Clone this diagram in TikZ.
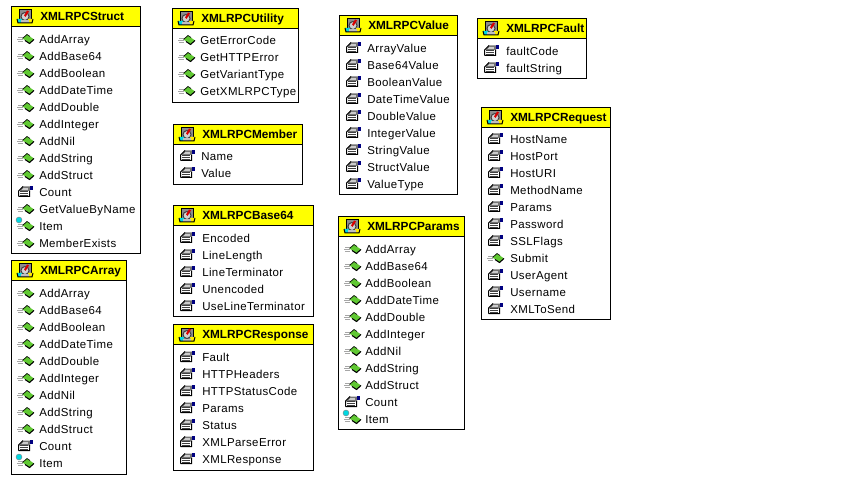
\documentclass[tikz,border=0pt]{standalone}
\usepackage{fontspec}
\setmainfont{Liberation Sans}
\newfontfamily\rowfont[LetterSpace=3.5]{Liberation Sans}
\definecolor{hdr}{RGB}{255,255,0}
\definecolor{leaf}{RGB}{96,200,50}
\definecolor{flag}{RGB}{0,0,128}
\definecolor{bulb}{RGB}{0,215,225}
\tikzset{
  x=0.75pt,y=-0.75pt,
  px/.style={line width=0.75pt},
  boxframe/.style={draw=black,px,fill=white},
  boxhead/.style={draw=black,px,fill=hdr},
  rowtext/.style={anchor=base west,inner sep=0pt,font=\rowfont\fontsize{8.6pt}{10pt}\selectfont,text=black},
  headtext/.style={anchor=base west,inner sep=0pt,font=\bfseries\fontsize{8.85pt}{10pt}\selectfont,text=black},
}
\newcommand{\icom}[2]{%
  \begin{scope}[shift={(#1,#2)}]
    \draw[black!35,px] (1,-1.5) -- (6,-1.5) (0,0.5) -- (6,0.5) (1,2.5) -- (6,2.5);
    \fill[leaf] (5.5,-0.5) -- (10,-4.5) -- (17,0.5) -- (12.5,4.5) -- cycle;
    \draw[black,line width=0.5pt] (5.5,-0.5) -- (10,-4.5) -- (13,-2.5);
    \draw[black,line width=0.8pt] (8,1.5) -- (12.5,4.5) -- (17,0.5);
  \end{scope}}
\newcommand{\icop}[2]{%
  \begin{scope}[shift={(#1,#2)}]
    \fill[black!55] (5.5,-5.5) -- (13,-5.5) -- (13,-0.5) -- (1.5,-0.5) -- cycle;
    \fill[flag] (12.5,-6) rectangle (15.5,-2);
    \fill[white] (1.5,-0.5) rectangle (12.5,4.5);
    \draw[black,px] (1.5,4.5) -- (1.5,-1) -- (6,-5.5) (1.5,4.5) -- (12.5,4.5) -- (12.5,-1);
    \draw[black!75,line width=0.6pt] (3,-0.5) -- (11,-0.5) (3,1.5) -- (11,1.5) (3,3) -- (11,3);
    \draw[black!20,line width=0.5pt] (6,-3.8) -- (11,-3.8) (4.5,-2.2) -- (11,-2.2);
  \end{scope}}
\newcommand{\icoi}[2]{%
  \icom{#1}{#2}%
  \fill[bulb,draw=black!50,line width=0.3pt] (#1+2,#2-6) circle (3);}
\newcommand{\icoc}[2]{%
  \begin{scope}[shift={(#1,#2)}]
    \fill[black!45] (2,-6) rectangle (14,5);
    \draw[black,px] (2,5) -- (2,-6) -- (14,-6) -- (14,5);
    \fill[black!18] (8,0.5) circle (4);
    \draw[black!75,px] (8,0.5) circle (4);
    \fill[red!85!black] (7,-0.5) -- (10,-5.5) -- (12,-4.5) -- (8.5,1) -- cycle;
    \fill[bulb] (0,3) -- (5,3) -- (4,7) -- (1,7) -- cycle;
    \fill[hdr!85!orange] (11,3) -- (16,3) -- (15,7) -- (12,7) -- cycle;
    \fill[black!25] (4,4.5) rectangle (12,7);
    \draw[black,px] (0,3) -- (1,7) -- (15,7) -- (16,3);
  \end{scope}}
\newcommand{\classbox}[9]{%
  \draw[boxframe] (#2+.5,#3+.5) rectangle (#4+.5,#5+.5);
  \draw[boxhead] (#2+.5,#3+.5) rectangle (#4+.5,#3+20.5);
  \icoc{#2+6}{#3+10}
  \node[headtext] (#1-head) at (#2+29,#3+14.5) {#8};
  \foreach \k/\t [count=\n from 0] in {#9} {
    \pgfmathsetmacro{\ry}{#6+17*\n}
    \csname ico\k\endcsname{#2+6}{\ry}
    \node[rowtext] (#1-\n) at (#2+#7,\ry+4.4) {\t};
  }}
\begin{document}
\begin{tikzpicture}
\useasboundingbox (0,0) rectangle (860,488);
\fill[white] (0,0) rectangle (860,488);
\classbox{struct}{11}{6}{140}{253}{39}{28}{XMLRPCStruct}{m/AddArray,m/AddBase64,m/AddBoolean,m/AddDateTime,m/AddDouble,m/AddInteger,m/AddNil,m/AddString,m/AddStruct,p/Count,m/GetValueByName,i/Item,m/MemberExists}
\classbox{array}{11}{260}{126}{474}{293}{28}{XMLRPCArray}{m/AddArray,m/AddBase64,m/AddBoolean,m/AddDateTime,m/AddDouble,m/AddInteger,m/AddNil,m/AddString,m/AddStruct,p/Count,i/Item}
\classbox{utility}{172}{8}{298}{102}{40}{28}{XMLRPCUtility}{m/GetErrorCode,m/GetHTTPError,m/GetVariantType,m/GetXMLRPCType}
\classbox{member}{173}{124}{302}{184}{156}{28}{XMLRPCMember}{p/Name,p/Value}
\classbox{base}{173}{205}{313}{316}{238}{29}{XMLRPCBase64}{p/Encoded,p/LineLength,p/LineTerminator,p/Unencoded,p/UseLineTerminator}
\classbox{response}{173}{324}{313}{470}{357}{29}{XMLRPCResponse}{p/Fault,p/HTTPHeaders,p/HTTPStatusCode,p/Params,p/Status,p/XMLParseError,p/XMLResponse}
\classbox{value}{339}{15}{457}{194}{48}{28}{XMLRPCValue}{p/ArrayValue,p/Base64Value,p/BooleanValue,p/DateTimeValue,p/DoubleValue,p/IntegerValue,p/StringValue,p/StructValue,p/ValueType}
\classbox{params}{338}{216}{464}{429}{249}{27}{XMLRPCParams}{m/AddArray,m/AddBase64,m/AddBoolean,m/AddDateTime,m/AddDouble,m/AddInteger,m/AddNil,m/AddString,m/AddStruct,p/Count,i/Item}
\classbox{fault}{477}{18}{586}{78}{51}{29}{XMLRPCFault}{p/faultCode,p/faultString}
\classbox{request}{481}{107}{610}{319}{139}{29}{XMLRPCRequest}{p/HostName,p/HostPort,p/HostURI,p/MethodName,p/Params,p/Password,p/SSLFlags,m/Submit,p/UserAgent,p/Username,p/XMLToSend}
\end{tikzpicture}
\end{document}
